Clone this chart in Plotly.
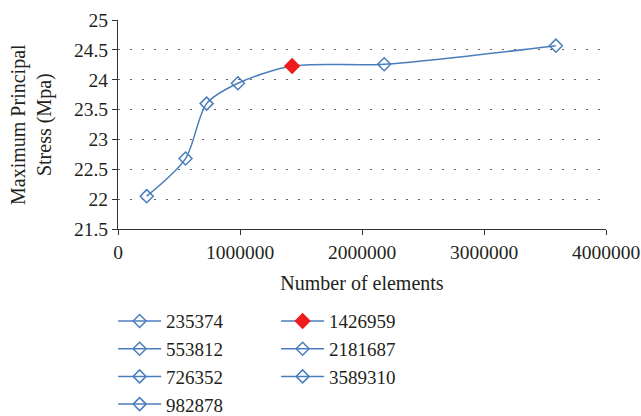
import plotly.graph_objects as go

elements = [235374, 553812, 726352, 982878, 1426959, 2181687, 3589310]
stress = [22.05, 22.68, 23.60, 23.94, 24.23, 24.26, 24.57]
labels = [str(v) for v in elements]
highlight = "1426959"

BLUE = "#4a7ebb"
RED = "#ee1c1c"
FONT = "Liberation Serif"
TXT = "#231f20"

fig = go.Figure()
# smoothed connecting line
fig.add_trace(go.Scatter(x=elements, y=stress, mode="lines",
                         line=dict(color=BLUE, width=1.5, shape="spline", smoothing=0.8),
                         showlegend=False, hoverinfo="skip"))

for i, (xv, yv, lab) in enumerate(zip(elements, stress, labels)):
    red = lab == highlight
    fig.add_trace(go.Scatter(
        x=[xv], y=[yv], mode="lines+markers", name=lab,
        line=dict(color=BLUE, width=1.5),
        marker=dict(symbol="diamond" if red else "diamond-open",
                    size=11 if red else 10,
                    color=RED if red else BLUE,
                    line=dict(color=RED if red else BLUE, width=1.5)),
        legend="legend" if i < 4 else "legend2",
        legendgroup=lab,
    ))

axis_common = dict(showline=True, linecolor="#333", linewidth=1.2,
                   ticks="outside", ticklen=5, tickcolor="#333",
                   tickfont=dict(family=FONT, size=19.5, color=TXT),
                   zeroline=False, automargin=False)

fig.update_xaxes(range=[0, 4000000], dtick=1000000, tickformat="d",
                 showgrid=False,
                 title=dict(text="Number of elements", font=dict(family=FONT, size=20, color=TXT),
                            standoff=14),
                 **axis_common)
fig.update_yaxes(range=[21.5, 25], dtick=0.5,
                 showgrid=True, gridcolor="#666", gridwidth=1, griddash="2px,10px",
                 **axis_common)

fig.add_annotation(text="Maximum Principal<br>Stress (Mpa)", textangle=-90,
                   xref="paper", yref="paper", x=-0.1773, y=0.5,
                   xanchor="center", yanchor="middle", showarrow=False,
                   font=dict(family=FONT, size=20, color=TXT))

leg_common = dict(font=dict(family=FONT, size=19, color=TXT),
                  bgcolor="rgba(0,0,0,0)", tracegroupgap=0, itemwidth=43,
                  orientation="v", xanchor="left", yanchor="top")
fig.update_layout(
    width=641, height=416,
    margin=dict(l=118, r=35, t=20, b=187, autoexpand=False),
    plot_bgcolor="white", paper_bgcolor="white",
    font=dict(family=FONT, color=TXT),
    legend=dict(x=-0.010, y=-0.350, **leg_common),
    legend2=dict(x=0.324, y=-0.350, **leg_common),
)

fig.write_html("out.html", config={"displayModeBar": False},
               post_script="document.body.style.margin='0';")
